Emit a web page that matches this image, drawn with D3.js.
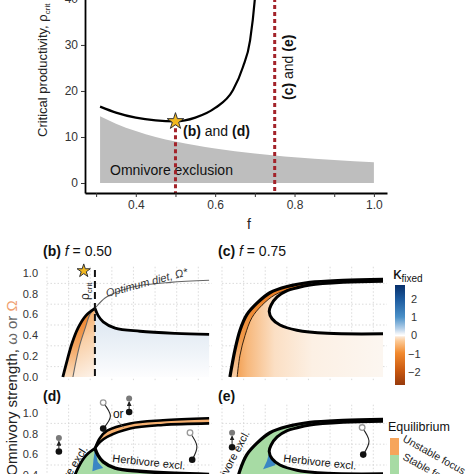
<!DOCTYPE html>
<html>
<head>
<meta charset="utf-8">
<script src="https://cdn.jsdelivr.net/npm/d3@7"></script>
<style>
body{margin:0;background:#fff;}
svg text{font-family:"Liberation Sans",Arial,sans-serif;}
</style>
</head>
<body>
<script>
//panel (a) data: f vs critical productivity
const critCurve=[[0.31,16.6],[0.35,15.3],[0.40,14.2],[0.45,13.6],[0.50,13.4],[0.55,14.2],[0.60,16.3],[0.645,20.2],[0.67,25.2],[0.688,31],[0.70,40],[0.705,46]];
const exclusionTop=[[0.31,14.5],[0.35,12.9],[0.40,11.3],[0.45,10.0],[0.50,9.0],[0.60,7.5],[0.70,6.4],[0.75,6.0],[0.80,5.6],[0.90,5.0],[1.0,4.5]];
const fTicks=[0.3,0.4,0.5,0.6,0.7,0.8,0.9,1.0];
const fLabels=[0.4,0.6,0.8,1.0];
const rhoTicks=[0,10,20,30,40];
const markedF=[0.5,0.75];
const starA=[0.5,13.4];

//panels (b)-(e): productivity vs omnivory strength
const omegaTicks=[0,0.2,0.4,0.6,0.8,1.0];
const omegaGrid=[0.1,0.3,0.5,0.7,0.9];
const rhoGrid=[0,6,12,18,24,30,36,42];
const rhoCrit=13.3;
const leftB=[[4.4,0],[5.6,0.16],[6.9,0.32],[8.6,0.47],[10.8,0.59],[13.3,0.66]];
const optimumB=[[7.2,0],[8.1,0.16],[9.2,0.32],[10.6,0.47],[11.9,0.60],[13.3,0.66],[16.1,0.76],[20.3,0.83],[25.8,0.88],[34.2,0.91],[45,0.93]];
const lowerB=[[13.3,0.66],[14.2,0.59],[15.6,0.53],[18.9,0.47],[25.8,0.44],[35.6,0.42],[45,0.41]];
const outerC=[[2.2,0],[3.6,0.26],[5.0,0.45],[6.9,0.60],[9.7,0.71],[13.3,0.81],[18.1,0.87],[24.4,0.91],[33.6,0.93],[44.7,0.94]];
const innerC=[[4.2,0],[5.0,0.21],[6.4,0.40],[8.3,0.57],[11.1,0.69],[14.7,0.79],[19.4,0.85],[24.4,0.895]];
const foldC=[[44.7,0.92],[33.6,0.91],[24.4,0.885],[20.5,0.855],[18.1,0.83],[15.3,0.77],[13.6,0.69],[13.1,0.63],[13.9,0.56],[16.1,0.50],[20.8,0.45],[29.2,0.42],[44.7,0.415]];
const bandTopD=[[13.3,0.66],[14.7,0.76],[16.7,0.83],[23.1,0.90],[32.2,0.93],[45,0.95]];
const bandBotD=[[13.3,0.66],[14.7,0.72],[16.7,0.77],[23.1,0.85],[32.2,0.885],[45,0.90]];
const wedgeD=[[13.3,0.65],[12.9,0.55],[12.6,0.44],[14.2,0.46],[15.6,0.47],[14.1,0.53]];
const wedgeE=[[13.1,0.62],[12.5,0.54],[11.4,0.46],[13.3,0.48],[14.9,0.50],[13.8,0.56]];
const starB=[10.2,1.02];
const curvedArrowsD=[[[15.6,1.10],[17.6,0.97],[15.6,0.85]],[[39.7,0.81],[41.6,0.68],[40.3,0.55]]];
const curvedArrowsE=[[[38.9,0.86],[40.8,0.73],[39.2,0.60]]];
const lollipopsD=[[22.8,1.14,1.01],[3.3,0.76,0.63]];
const lollipopsE=[[2.8,0.81,0.67]];
const kappaTicks=[2,1,0,-1,-2];

const svg=d3.select("body").append("svg").attr("width",474).attr("height",474);
const defs=svg.append("defs");
function grad(id,x1,y1,x2,y2,stops){
  const g=defs.append("linearGradient").attr("id",id).attr("gradientUnits","userSpaceOnUse")
    .attr("x1",x1).attr("y1",y1).attr("x2",x2).attr("y2",y2);
  stops.forEach(s=>g.append("stop").attr("offset",s[0]).attr("stop-color",s[1]).attr("stop-opacity",s[2]==null?1:s[2]));
}
defs.append("marker").attr("id","arr").attr("viewBox","0 0 6 6").attr("refX",5).attr("refY",3)
  .attr("markerWidth",5).attr("markerHeight",5).attr("orient","auto")
  .append("path").attr("d","M0,0L6,3L0,6Z").attr("fill","#222");

// ---------- panel (a) ----------
const xA=d3.scaleLinear().domain([0.272,1.033]).range([85,387]);
const yA=d3.scaleLinear().domain([-2.17,40.2]).range([193,-2]);

svg.append("path")
  .datum(exclusionTop)
  .attr("d",d3.area().x(d=>xA(d[0])).y0(yA(0)).y1(d=>yA(d[1])).curve(d3.curveMonotoneX))
  .attr("fill","#bebebe");
svg.append("text").attr("x",110).attr("y",175).attr("font-size",14).attr("fill","#111").text("Omnivore exclusion");

svg.selectAll(".fline").data(markedF).enter().append("line")
  .attr("x1",d=>xA(d)).attr("x2",d=>xA(d))
  .attr("y1",d=>d===starA[0]?yA(starA[1]):-2).attr("y2",193)
  .attr("stroke","#a3232a").attr("stroke-width",3).attr("stroke-dasharray","4,3");

svg.append("path").datum(critCurve)
  .attr("d",d3.line().x(d=>xA(d[0])).y(d=>yA(d[1])).curve(d3.curveMonotoneX))
  .attr("fill","none").attr("stroke","#000").attr("stroke-width",2.2);

svg.append("path").attr("d",d3.symbol(d3.symbolStar,85)())
  .attr("transform","translate("+xA(starA[0])+","+yA(starA[1])+")")
  .attr("fill","#f2b820").attr("stroke","#333").attr("stroke-width",1);

const lab1=svg.append("text").attr("x",183).attr("y",136).attr("font-size",14).attr("fill","#111");
lab1.append("tspan").attr("font-weight","bold").text("(b)");
lab1.append("tspan").text(" and ");
lab1.append("tspan").attr("font-weight","bold").text("(d)");
const lab2=svg.append("text").attr("transform","translate(293,100) rotate(-90)").attr("font-size",14).attr("fill","#111");
lab2.append("tspan").attr("font-weight","bold").text("(c)");
lab2.append("tspan").text(" and ");
lab2.append("tspan").attr("font-weight","bold").text("(e)");

//axes
const xAxis=d3.axisBottom(xA).tickValues(fTicks).tickSize(4).tickSizeOuter(0)
  .tickFormat(d=>fLabels.some(v=>Math.abs(v-d)<1e-6)?d3.format(".1f")(d):"");
const gx=svg.append("g").attr("transform","translate(0,193)").call(xAxis);
const yAxis=d3.axisLeft(yA).tickValues(rhoTicks).tickSize(4).tickSizeOuter(0);
const gy=svg.append("g").attr("transform","translate(85,0)").call(yAxis);
[gx,gy].forEach(g=>{
  g.select(".domain").attr("stroke-width",1.8);
  g.selectAll("text").attr("font-size",12).attr("fill","#333");
  g.selectAll(".tick line").attr("stroke","#333");
});
svg.append("text").attr("x",249).attr("y",229).attr("text-anchor","middle").attr("font-size",14).attr("fill","#222").text("f");
const yl=svg.append("text").attr("transform","translate(47,137) rotate(-90)").attr("font-size",13).attr("fill","#222");
yl.append("tspan").text("Critical productivity, ρ");
yl.append("tspan").attr("font-size",8).attr("dy",3).text("crit");

// ---------- panels (b)-(e) ----------
const yB=d3.scaleLinear().domain([0,1]).range([377,273]);
const yD=d3.scaleLinear().domain([0,1]).range([517,413]);
const xB=d3.scaleLinear().domain([0,45.8]).range([47,212]);
const xC=d3.scaleLinear().domain([0,45.8]).range([222,387]);

const seg=(pts,xs,ys,c)=>d3.line().x(d=>xs(d[0])).y(d=>ys(d[1])).curve(c||d3.curveCatmullRom.alpha(0.5))(pts);
const join=(...parts)=>parts.map((p,i)=>i?p.replace(/^M/,"L"):p).join("")+"Z";
const rev=a=>a.slice().reverse();

function grid(xs,ys,w0,w1){
  const g=svg.append("g").attr("stroke","#d2d2d2").attr("stroke-width",0.8).attr("stroke-dasharray","1.5,2");
  g.selectAll(".v").data(rhoGrid).enter().append("line")
    .attr("x1",d=>xs(d)).attr("x2",d=>xs(d)).attr("y1",ys(w1)).attr("y2",ys(w0));
  g.selectAll(".h").data(omegaGrid).enter().append("line")
    .attr("x1",xs.range()[0]).attr("x2",xs.range()[1]).attr("y1",d=>ys(d)).attr("y2",d=>ys(d));
}
function omegaAxis(ys){
  svg.append("g").selectAll("text").data(omegaTicks).enter().append("text")
    .attr("x",38).attr("y",d=>ys(d)).attr("dy","0.35em").attr("text-anchor","end")
    .attr("font-size",11).attr("fill","#333").text(d=>d3.format(".1f")(d));
}
function title(x,y,tag,fval){
  const t=svg.append("text").attr("x",x).attr("y",y).attr("font-size",14).attr("fill","#111");
  t.append("tspan").attr("font-weight","bold").text(tag);
  if(fval){
    t.append("tspan").text(" ");
    t.append("tspan").attr("font-style","italic").text("f");
    t.append("tspan").text(" = "+fval);
  }
}
const stroke=(d,w,c)=>svg.append("path").attr("d",d).attr("fill","none").attr("stroke",c||"#000").attr("stroke-width",w).attr("stroke-linejoin","round");

title(43,256,"(b)","0.50");
title(218,256,"(c)","0.75");
title(43,401,"(d)");
title(218,401,"(e)");
grid(xB,yB,-0.03,1.06);
grid(xC,yB,-0.03,1.06);
grid(xB,yD,0,1.08);
grid(xC,yD,0,1.08);
omegaAxis(yB);
omegaAxis(yD);

//(b)
grad("gBo",xB(4),yB(0.6),xB(14),yB(0),[[0,"#f29a48"],[0.45,"#f9cfa6"],[1,"#fdf4ec"]]);
grad("gBband",0,yB(0.66),0,yB(0),[[0,"#ec7e22"],[0.55,"#f4a560"],[1,"#fbdcbc"]]);
grad("gBblue",0,yB(0.6),0,yB(0),[[0,"#dce6f1"],[0.6,"#eef3f8"],[1,"#fdfdfe"]]);
svg.append("path").attr("d",join(seg(leftB,xB,yB),seg([[rhoCrit,0.66],[rhoCrit,0],[4.4,0]],xB,yB,d3.curveLinear))).attr("fill","url(#gBo)");
svg.append("path").attr("d",join(seg(leftB,xB,yB),seg(rev(optimumB.slice(0,6)),xB,yB))).attr("fill","url(#gBband)");
svg.append("path").attr("d",join(seg(lowerB,xB,yB),seg([[45,0.41],[45,0],[rhoCrit,0],[rhoCrit,0.66]],xB,yB,d3.curveLinear))).attr("fill","url(#gBblue)");
stroke(seg(optimumB,xB,yB),1.1,"#666");
stroke(seg(leftB,xB,yB),2.8);
stroke(seg(lowerB,xB,yB),2.8);
svg.append("line").attr("x1",xB(rhoCrit)).attr("x2",xB(rhoCrit)).attr("y1",yB(1.03)).attr("y2",yB(-0.03))
  .attr("stroke","#111").attr("stroke-width",2).attr("stroke-dasharray","7,4");
svg.append("path").attr("d",d3.symbol(d3.symbolStar,55)())
  .attr("transform","translate("+xB(starB[0])+","+yB(starB[1])+")")
  .attr("fill","#f2b820").attr("stroke","#333").attr("stroke-width",1);
const rc=svg.append("text").attr("transform","translate("+(xB(rhoCrit)-6)+","+yB(0.74)+") rotate(-90)").attr("font-size",12).attr("fill","#222");
rc.append("tspan").text("ρ");
rc.append("tspan").attr("font-size",8).attr("dy",3).text("crit");
const od=svg.append("text").attr("transform","translate(107,297) rotate(-15)").attr("font-size",11).attr("font-style","italic").attr("fill","#333");
od.text("Optimum diet, Ω*");

//(c)
grad("gCo",xC(2),0,xC(44),0,[[0,"#f08f38"],[0.12,"#f7b87c"],[0.3,"#fbdfc4"],[0.55,"#fcf0e4"],[1,"#fcf6f0"]]);
grad("gCband",0,yB(0.9),0,yB(0),[[0,"#ea7a1e"],[0.6,"#f29a4a"],[1,"#f9cfa8"]]);
svg.append("path").attr("d",join(seg(outerC.slice(0,8),xC,yB),seg(foldC.slice(2),xC,yB),seg([[44.7,0.415],[44.7,0],[2.2,0]],xC,yB,d3.curveLinear))).attr("fill","url(#gCo)");
svg.append("path").attr("d",join(seg(outerC.slice(0,8),xC,yB),seg(rev(innerC),xC,yB))).attr("fill","url(#gCband)");
stroke(seg(innerC,xC,yB),1,"#3a2410");
stroke(seg(outerC,xC,yB),3.2);
stroke(seg(foldC,xC,yB),3);

//colorbar
const kap=d3.scaleLinear().domain([-2.7,2.76]).range([385,285]);
grad("gK",0,kap(2.76),0,kap(-2.7),[[0,"#08306b"],[0.14,"#1c5a9e"],[0.32,"#4a90c8"],[0.44,"#b9d2ea"],[0.485,"#eef3f8"],[0.505,"#ffffff"],[0.52,"#fbe6d2"],[0.56,"#fcc995"],[0.68,"#f28a2e"],[0.86,"#c8570f"],[1,"#973a0c"]]);
svg.append("rect").attr("x",395).attr("y",kap(2.76)).attr("width",10).attr("height",kap(-2.7)-kap(2.76)).attr("fill","url(#gK)");
svg.selectAll(".kt").data(kappaTicks).enter().append("text")
  .attr("x",d=>d<0?408:411).attr("y",d=>kap(d)).attr("dy","0.35em").attr("font-size",11).attr("fill","#333")
  .text(d=>d<0?"−"+Math.abs(d):d);
const kl=svg.append("text").attr("x",393).attr("y",279).attr("font-size",17).attr("fill","#111");
kl.append("tspan").text("κ");
kl.append("tspan").attr("font-size",10).attr("dy",3).text("fixed");

//(d)
svg.append("path").attr("d",join(seg(leftB,xB,yD),seg(lowerB.slice(1),xB,yD),seg([[45,0.41],[45,0],[4.4,0]],xB,yD,d3.curveLinear))).attr("fill","#a7dba4");
svg.append("path").attr("d",seg(wedgeD,xB,yD,d3.curveLinearClosed)).attr("fill","#3a86c4");
svg.append("path").attr("d",join(seg(bandTopD,xB,yD),seg(rev(bandBotD),xB,yD))).attr("fill","#f6b070");
stroke(seg(leftB,xB,yD),2.8);
stroke(seg(bandTopD,xB,yD),2.6);
stroke(seg(bandBotD,xB,yD),2.6);
stroke(seg(lowerB,xB,yD),3.4);
svg.append("text").attr("transform","translate(112,462) rotate(6)").attr("font-size",11).attr("fill","#111").text("Herbivore excl.");
svg.append("text").attr("transform","translate(88,449) rotate(-58)").attr("text-anchor","end").attr("font-size",11).attr("fill","#111").text("Omnivore excl.");
svg.append("text").attr("x",xB(18.3)).attr("y",yD(0.95)).attr("font-size",12).attr("fill","#111").text("or");
svg.append("line").attr("x1",xB(19.6)).attr("y1",yD(0.925)).attr("x2",xB(21.2)).attr("y2",yD(0.86)).attr("stroke","#555").attr("stroke-width",0.8);

//(e)
svg.append("path").attr("d",join(seg(outerC.slice(0,8),xC,yD),seg(foldC.slice(2),xC,yD),seg([[44.7,0.415],[44.7,0],[2.2,0]],xC,yD,d3.curveLinear))).attr("fill","#a7dba4");
svg.append("path").attr("d",seg(wedgeE,xC,yD,d3.curveLinearClosed)).attr("fill","#3a86c4");
stroke(seg(outerC,xC,yD),3.2);
stroke(seg(foldC,xC,yD),3);
svg.append("text").attr("transform","translate(283,462) rotate(6)").attr("font-size",11).attr("fill","#111").text("Herbivore excl.");
svg.append("text").attr("transform","translate(250,433) rotate(-62)").attr("text-anchor","end").attr("font-size",11).attr("fill","#111").text("Omnivore excl.");

//dynamics icons
function icons(xs,arrows,pops){
  arrows.forEach(a=>{
    svg.append("path").attr("d",seg(a,xs,yD,d3.curveNatural)).attr("fill","none").attr("stroke","#222").attr("stroke-width",1.1);
    svg.append("circle").attr("cx",xs(a[0][0])).attr("cy",yD(a[0][1])).attr("r",2.8).attr("fill","#fff").attr("stroke","#999").attr("stroke-width",1.3);
    svg.append("circle").attr("cx",xs(a[2][0])).attr("cy",yD(a[2][1])).attr("r",3.3).attr("fill","#111");
  });
  pops.forEach(p=>{
    svg.append("line").attr("x1",xs(p[0])).attr("x2",xs(p[0])).attr("y1",yD(p[2])-3).attr("y2",yD(p[1])+3.5)
      .attr("stroke","#222").attr("stroke-width",1).attr("marker-end","url(#arr)");
    svg.append("circle").attr("cx",xs(p[0])).attr("cy",yD(p[1])).attr("r",3).attr("fill","#7a7a7a");
    svg.append("circle").attr("cx",xs(p[0])).attr("cy",yD(p[2])).attr("r",3.3).attr("fill","#111");
  });
}
icons(xB,curvedArrowsD,lollipopsD);
icons(xC,curvedArrowsE,lollipopsE);

//equilibrium legend
svg.append("text").attr("x",388).attr("y",431).attr("font-size",12.5).attr("fill","#111").text("Equilibrium");
svg.append("rect").attr("x",390).attr("y",438).attr("width",9).attr("height",17).attr("fill","#f6a55b");
svg.append("rect").attr("x",390).attr("y",455).attr("width",9).attr("height",19).attr("fill","#a7dba4");
svg.append("text").attr("transform","translate(402,441) rotate(29)").attr("font-size",10.5).attr("fill","#222").text("Unstable focus");
svg.append("text").attr("transform","translate(402,459) rotate(29)").attr("font-size",10.5).attr("fill","#222").text("Stable focus");

//shared y label
const ol=svg.append("text").attr("transform","translate(17,388) rotate(-90)").attr("text-anchor","middle").attr("font-size",15).attr("fill","#222");
ol.append("tspan").text("Omnivory strength, ");
ol.append("tspan").attr("fill","#666").text("ω or ");
ol.append("tspan").attr("fill","#f0a070").text("Ω");
</script>
</body>
</html>
